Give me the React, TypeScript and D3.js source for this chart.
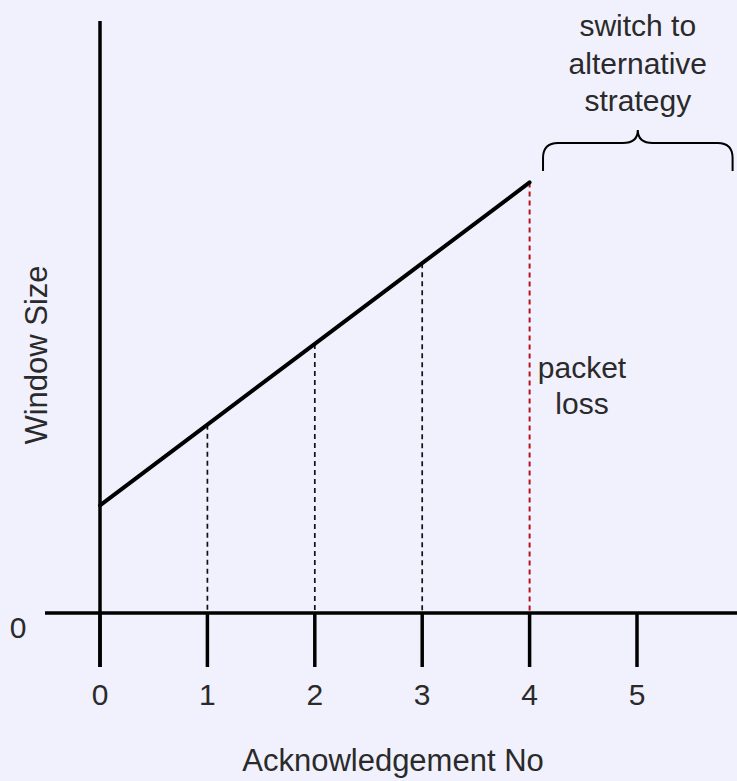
import React from "react";
import * as d3 from "d3";

const ackNumbers = [0, 1, 2, 3, 4];
const windowSizes = [1, 1.75, 2.5, 3.25, 4];
const xTickLabels = ["0", "1", "2", "3", "4", "5"];
const yTickLabels = ["0"];
const annotationLines = ["switch to", "alternative", "strategy"];
const lossLines = ["packet", "loss"];

const W = 737;
const H = 781;

export default function App() {
  const x = d3.scaleLinear().domain([0, 5]).range([100, 637]);
  const y = d3.scaleLinear().domain([0, 5.5]).range([613, 21]);
  const pts = ackNumbers.map((a, i) => [x(a), y(windowSizes[i])] as [number, number]);
  const line = d3.line()(pts) || "";
  const font = "'Liberation Sans', Arial, Helvetica, sans-serif";
  const xb0 = x(4.125);
  const xb1 = x(5.89);
  const xm = (xb0 + xb1) / 2;
  const yb = 143;
  const brace = `M${xb0},171 V158 Q${xb0},${yb} ${xb0 + 15},${yb} H${xm - 15} Q${xm},${yb} ${xm},130 Q${xm},${yb} ${xm + 15},${yb} H${xb1 - 15} Q${xb1},${yb} ${xb1},158 V171`;
  return (
    <svg width={W} height={H} style={{ position: "absolute", left: 0, top: 0, background: "#f1f1fd" }} fontFamily={font}>
      <rect x={0} y={0} width={W} height={H} fill="#f1f1fd" />
      {ackNumbers.map((a, i) => (
        <line key={"d" + i} x1={x(a)} x2={x(a)} y1={y(windowSizes[i])} y2={y(0)}
          stroke={i === ackNumbers.length - 1 ? "#b3141c" : "#111"} strokeWidth={i === ackNumbers.length - 1 ? 2 : 1.7}
          strokeDasharray="5,4" style={{ display: i === 0 ? "none" : undefined }} />
      ))}
      <line x1={x(0)} x2={x(0)} y1={y(5.5)} y2={667} stroke="#000" strokeWidth={3.5} />
      <line x1={45} x2={W} y1={y(0)} y2={y(0)} stroke="#000" strokeWidth={3.5} />
      {xTickLabels.map((t, i) => (
        <g key={"t" + i}>
          <line x1={x(i)} x2={x(i)} y1={y(0)} y2={667} stroke="#000" strokeWidth={3.5} />
          <text x={x(i)} y={705} textAnchor="middle" fontSize={30} fill="#2a2a2a">{t}</text>
        </g>
      ))}
      {yTickLabels.map((t, i) => (
        <text key={"y" + i} x={18} y={638} textAnchor="middle" fontSize={30} fill="#2a2a2a">{t}</text>
      ))}
      <path d={line} fill="none" stroke="#000" strokeWidth={4} strokeLinecap="round" />
      <path d={brace} fill="none" stroke="#000" strokeWidth={2} />
      {annotationLines.map((t, i) => (
        <text key={"a" + i} x={xm} y={36 + i * 37.5} textAnchor="middle" fontSize={30} fill="#2a2a2a">{t}</text>
      ))}
      {lossLines.map((t, i) => (
        <text key={"l" + i} x={582} y={378 + i * 36} textAnchor="middle" fontSize={30} fill="#2a2a2a">{t}</text>
      ))}
      <text x={393} y={771} textAnchor="middle" fontSize={31} fill="#2a2a2a">Acknowledgement No</text>
      <text transform={`translate(47,355) rotate(-90)`} textAnchor="middle" fontSize={31} fill="#2a2a2a">Window Size</text>
    </svg>
  );
}
